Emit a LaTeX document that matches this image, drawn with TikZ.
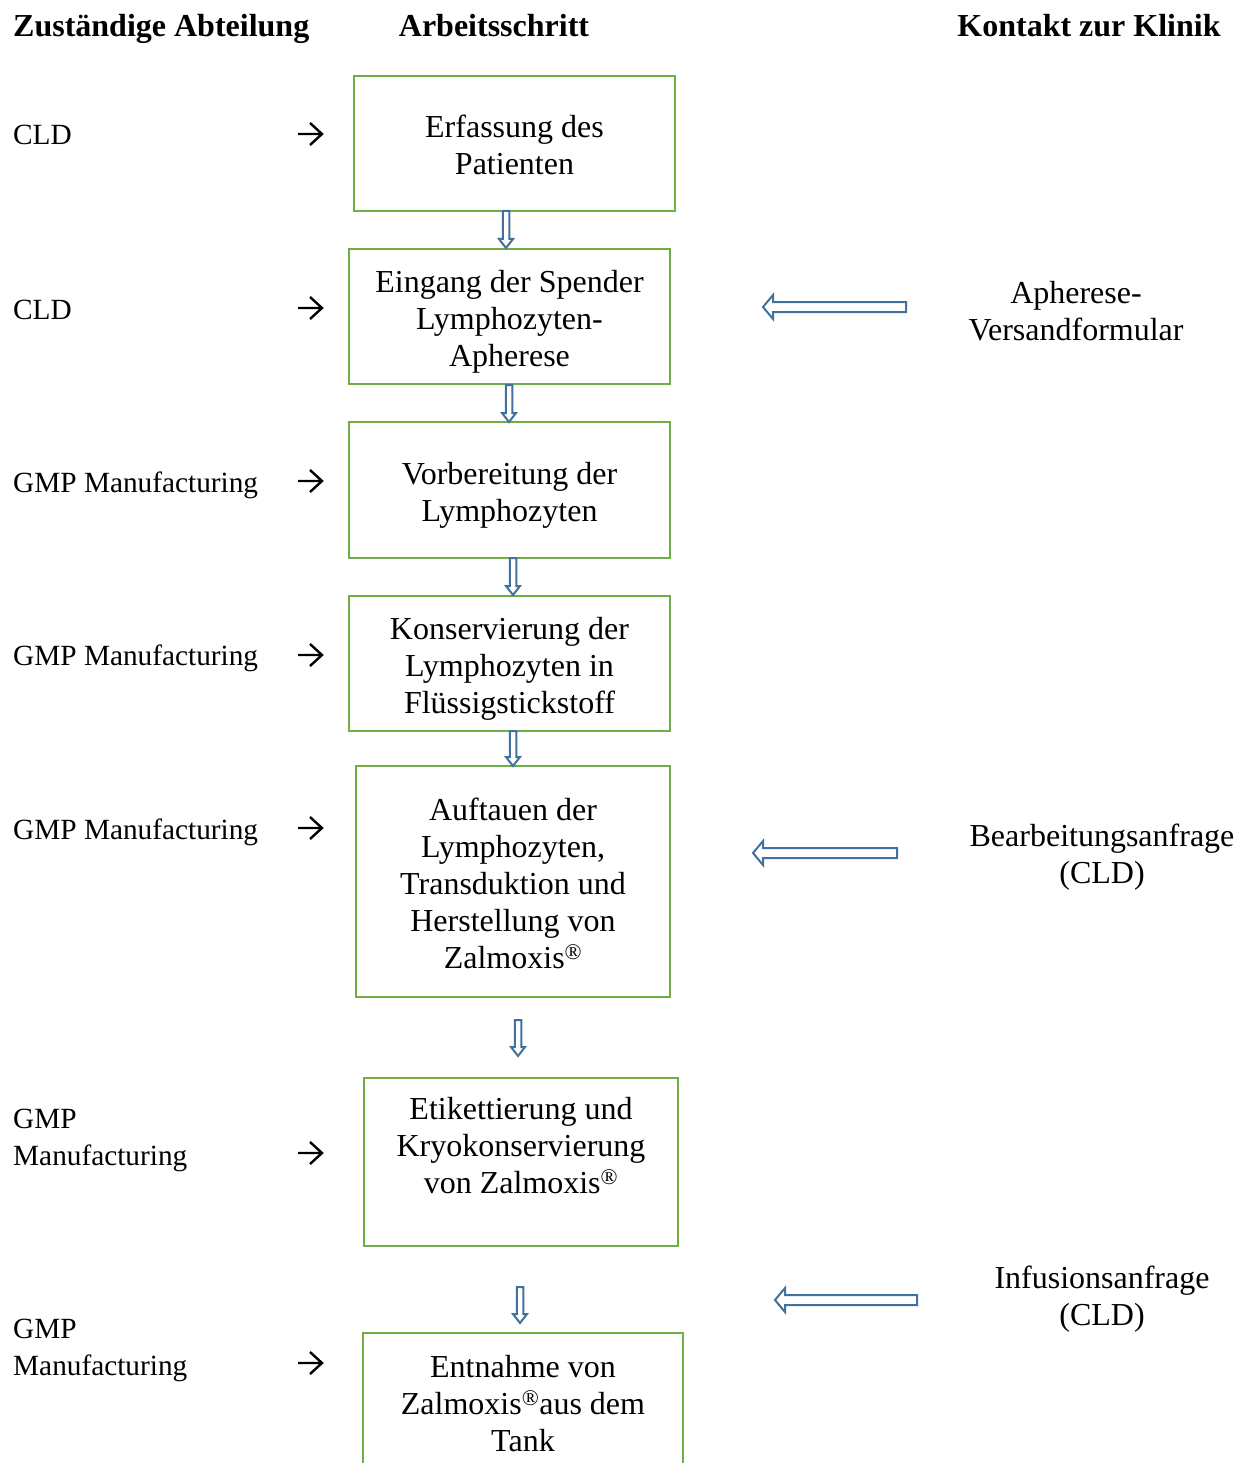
\documentclass[tikz,border=0pt]{standalone}
\usepackage{fontspec}
\setmainfont{Liberation Serif}
\usetikzlibrary{calc}
\definecolor{boxgreen}{RGB}{112,173,71}
\definecolor{arrblue}{RGB}{65,113,156}
\newcommand\hollowdown[2]{\draw[harrow] let \p1=(#1), \p2=(#2) in
  (\x1-3.25pt,\y1) -- (\x1+3.25pt,\y1) -- (\x1+3.25pt,\y2+9pt) -- (\x1+7pt,\y2+9pt)
  -- (\x1,\y2) -- (\x1-7pt,\y2+9pt) -- (\x1-3.25pt,\y2+9pt) -- cycle;}
\newcommand\hollowleft[2]{\draw[harrow] let \p1=(#1), \p2=(#2) in
  (\x1,\y1+5pt) -- (\x2+10pt,\y1+5pt) -- (\x2+10pt,\y1+12pt) -- (\x2,\y1)
  -- (\x2+10pt,\y1-12pt) -- (\x2+10pt,\y1-5pt) -- (\x1,\y1-5pt) -- cycle;}
\newcommand\smallarrow[1]{\draw[smallarr] let \p1=(#1) in
  (\x1-12pt,\y1) -- (\x1+12pt,\y1)
  (\x1,\y1+11pt) -- (\x1+12pt,\y1) -- (\x1,\y1-11pt);}
\begin{document}
\begin{tikzpicture}[x=1pt,y=-1pt,
  every node/.style={font=\fontsize{32}{37}\selectfont, inner sep=0pt},
  box/.style={draw=boxgreen, line width=2.7pt},
  steptext/.style={align=center},
  dept/.style={anchor=base west, align=left, font=\fontsize{29.3}{37}\selectfont},
  head/.style={anchor=base, font=\fontsize{32}{37}\selectfont\bfseries},
  smallarr/.style={draw=black, line width=2.4pt, line join=miter},
  contact/.style={align=center},
  harrow/.style={draw=arrblue, fill=white, line width=2pt, line join=miter}]
\useasboundingbox (0,0) rectangle (1247,1463);
\clip (0,0) rectangle (1247,1463);
% headers
\node[head, anchor=base west] (h1) at (13,36.5) {Zuständige Abteilung};
\node[head] (h2) at (494,36.5) {Arbeitsschritt};
\node[head] (h3) at (1089,36.5) {Kontakt zur Klinik};
% boxes
\node[box, minimum width=321, minimum height=135] (b1) at (514.5,143.5) {};
\node[steptext] (t1) at (514.5,144.5) {Erfassung des\\Patienten};
\node[box, minimum width=321, minimum height=135] (b2) at (509.5,316.5) {};
\node[steptext] (t2) at (509.5,321.5) {Eingang der Spender\\Lymphozyten-\\Apherese};
\node[box, minimum width=321, minimum height=136] (b3) at (509.5,490) {};
\node[steptext] (t3) at (509.5,495.5) {Vorbereitung der\\Lymphozyten};
\node[box, minimum width=321, minimum height=135] (b4) at (509.5,663.5) {};
\node[steptext] (t4) at (509.5,668.5) {Konservierung der\\Lymphozyten in\\Flüssigstickstoff};
\node[box, minimum width=314, minimum height=231] (b5) at (513,881.5) {};
\node[steptext] (t5) at (513,883) {Auftauen der\\Lymphozyten,\\Transduktion und\\Herstellung von\\Zalmoxis\textsuperscript{®}};
\node[box, minimum width=314, minimum height=168] (b6) at (521,1162) {};
\node[steptext] (t6) at (521,1146) {Etikettierung und\\Kryokonservierung\\von Zalmoxis\textsuperscript{®}};
\node[box, minimum width=320, minimum height=167] (b7) at (523,1416.5) {};
\node[steptext] (t7) at (523,1404) {Entnahme von\\Zalmoxis\textsuperscript{®}aus dem\\Tank};
% down arrows
\coordinate (d1a) at (506,211); \coordinate (d1b) at (506,248);
\coordinate (d2a) at (509,385); \coordinate (d2b) at (509,422);
\coordinate (d3a) at (513,558); \coordinate (d3b) at (513,595);
\coordinate (d4a) at (513,731); \coordinate (d4b) at (513,766);
\coordinate (d5a) at (518,1020); \coordinate (d5b) at (518,1056);
\coordinate (d6a) at (520,1287); \coordinate (d6b) at (520,1323);
\hollowdown{d1a}{d1b}
\hollowdown{d2a}{d2b}
\hollowdown{d3a}{d3b}
\hollowdown{d4a}{d4b}
\hollowdown{d5a}{d5b}
\hollowdown{d6a}{d6b}
% departments
\node[dept] (l1) at (13,145) {CLD};
\node[dept] (l2) at (13,319) {CLD};
\node[dept] (l3) at (13,492) {GMP Manufacturing};
\node[dept] (l4) at (13,665) {GMP Manufacturing};
\node[dept] (l5) at (13,839) {GMP Manufacturing};
\node[dept] (l6) at (13,1165) {GMP\\Manufacturing};
\node[dept] (l7) at (13,1375) {GMP\\Manufacturing};
% small arrows
\coordinate (s1) at (310,134);
\coordinate (s2) at (310,308);
\coordinate (s3) at (310,481);
\coordinate (s4) at (310,655);
\coordinate (s5) at (310,828);
\coordinate (s6) at (310,1153);
\coordinate (s7) at (310,1363);
\smallarrow{s1}
\smallarrow{s2}
\smallarrow{s3}
\smallarrow{s4}
\smallarrow{s5}
\smallarrow{s6}
\smallarrow{s7}
% contacts
\node[contact] (c1) at (1076,311.5) {Apherese-\\Versandformular};
\node[contact] (c2) at (1102,857.5) {Bearbeitungsanfrage\\(CLD)};
\node[contact] (c3) at (1102,1299) {Infusionsanfrage\\(CLD)};
\coordinate (r1a) at (906,307); \coordinate (r1b) at (763,307);
\coordinate (r2a) at (897,853); \coordinate (r2b) at (753,853);
\coordinate (r3a) at (917,1300); \coordinate (r3b) at (775,1300);
\hollowleft{r1a}{r1b}
\hollowleft{r2a}{r2b}
\hollowleft{r3a}{r3b}
\end{tikzpicture}
\end{document}
